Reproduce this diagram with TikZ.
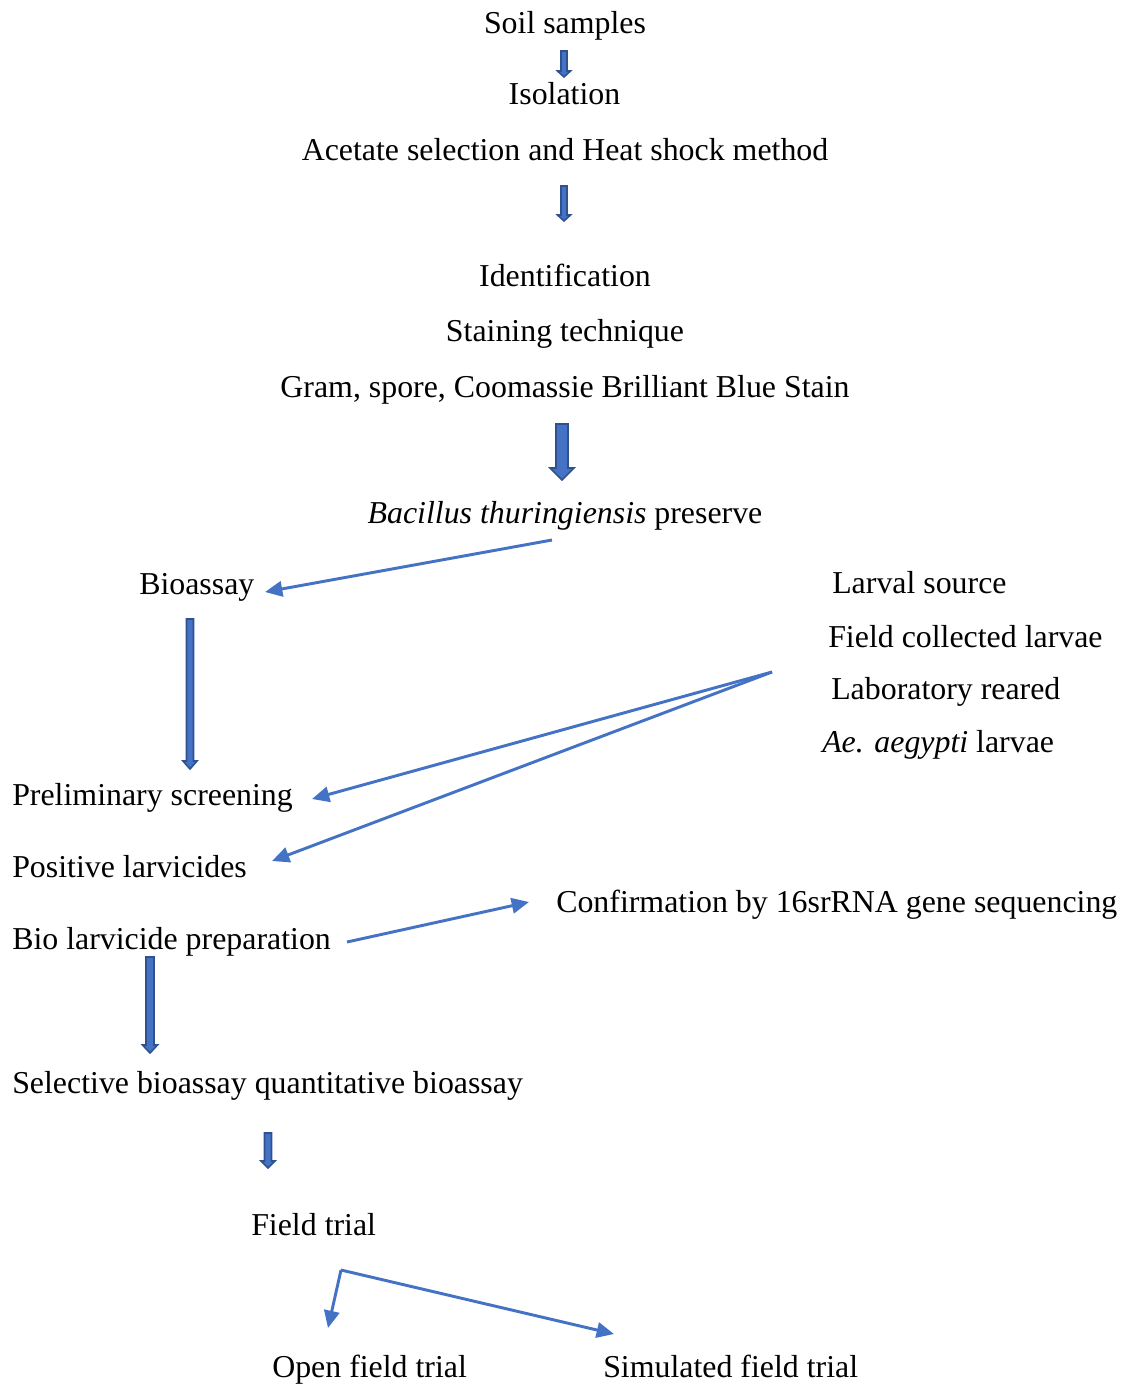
\documentclass[tikz,border=0pt]{standalone}
\usepackage{fontspec}
\setmainfont{Liberation Serif}
\usetikzlibrary{arrows.meta}
\definecolor{wblue}{HTML}{4472C4}
\definecolor{wdark}{HTML}{2F528F}
\newcommand{\blkarrow}[6]{%
  \draw[blk] ({#1-#4},#2) -- ({#1+#4},#2) -- ({#1+#4},{#3-#6}) -- ({#1+#5},{#3-#6})
    -- (#1,#3) -- ({#1-#5},{#3-#6}) -- ({#1-#4},{#3-#6}) -- cycle;}
\begin{document}
\begin{tikzpicture}[x=0.75pt,y=-0.75pt,
  lbl/.style={inner sep=0pt,font=\fontsize{23.9}{28}\selectfont},
  cl/.style={lbl,anchor=base},
  ll/.style={lbl,anchor=base west},
  thin/.style={draw=wblue,line width=2.2pt,-{Triangle[length=13pt,width=11.5pt]}},
  blk/.style={fill=wblue,draw=wdark,line width=1.2pt,line join=miter}]
\useasboundingbox (0,0) rectangle (1131,1385);
% centred column
\node[cl] (soil) at (565,33) {Soil samples};
\node[cl] (iso) at (564.5,104) {Isolation};
\node[cl] (acet) at (565,160) {Acetate selection and Heat shock method};
\node[cl] (ident) at (565,286) {Identification};
\node[cl] (stain) at (565,341) {Staining technique};
\node[cl] (gram) at (565,397) {Gram, spore, Coomassie Brilliant Blue Stain};
\node[cl] (bt) at (565,523) {\textit{Bacillus thuringiensis} preserve};
% left column
\node[ll] (bio) at (139,594) {Bioassay};
\node[ll] (prel) at (12,805) {Preliminary screening};
\node[ll] (pos) at (12,877) {Positive larvicides};
\node[ll] (biolar) at (12,949) {Bio larvicide preparation};
\node[ll] (sel) at (12,1093) {Selective bioassay quantitative bioassay};
\node[ll] (field) at (251,1235) {Field trial};
\node[ll] (open) at (272,1377) {Open field trial};
\node[ll] (sim) at (603,1377) {Simulated field trial};
% right column
\node[ll] (larv) at (832,593) {Larval source};
\node[ll] (fcl) at (828,647) {Field collected larvae};
\node[ll] (lab) at (831,699) {Laboratory reared};
\node[ll] (aed) at (822,752) {\textit{Ae. aegypti} larvae};
\node[ll] (conf) at (556,912) {Confirmation by 16srRNA gene sequencing};
% connector end points
\coordinate (btout) at (552,540);
\coordinate (bioin) at (265,592);
\coordinate (larvout) at (772,672);
\coordinate (prelin) at (312,799);
\coordinate (posin) at (272,861);
\coordinate (bioout) at (347,942);
\coordinate (confin) at (529,902);
\coordinate (split) at (341,1270);
\coordinate (openin) at (328,1328);
\coordinate (simin) at (614,1334);
% thin connectors
\draw[thin] (btout) -- (bioin);
\draw[thin] (larvout) -- (prelin);
\draw[thin] (larvout) -- (posin);
\draw[thin] (bioout) -- (confin);
\draw[thin] (split) -- (openin);
\draw[thin] (split) -- (simin);
% block arrows: x, ytop, ybot, shaft half, head half, head length
\blkarrow{564}{51}{77}{3}{6.5}{6}
\blkarrow{564}{186}{221}{3}{6.5}{6}
\blkarrow{562}{424}{480}{6}{12}{12}
\blkarrow{190}{619}{769}{3.5}{7}{8}
\blkarrow{150}{957}{1053}{4}{7.5}{8}
\blkarrow{268}{1133}{1168}{3.5}{7}{7}
\end{tikzpicture}
\end{document}
